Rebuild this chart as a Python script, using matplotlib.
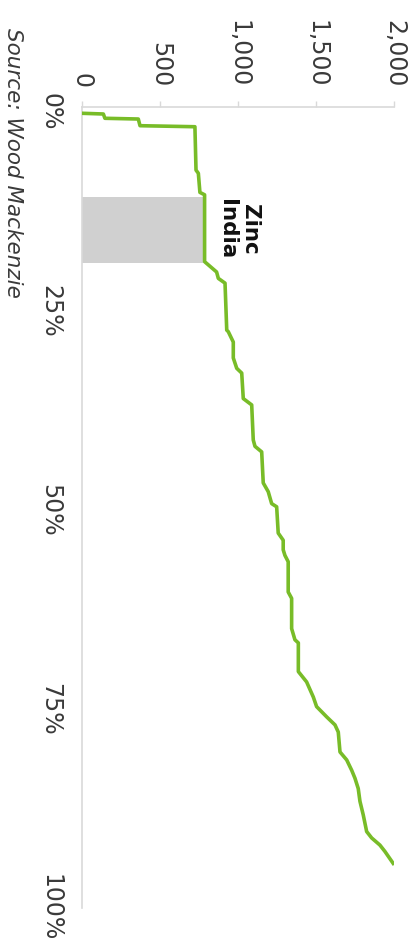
import matplotlib
matplotlib.use("Agg")
import matplotlib.pyplot as plt
from matplotlib.ticker import FuncFormatter

# cumulative share of production (%) and cash cost
cum_share = [0.16, 0.25, 0.79, 0.88, 1.72, 1.85, 7.3, 7.7, 10.1, 10.4, 18.8,
             20.1, 20.9, 21.5, 27.4, 27.6, 28.9, 30.9, 32.2, 32.8, 36.0,
             36.8, 41.2, 42.0, 42.7, 46.6, 47.7, 49.2, 49.6, 52.9, 53.8,
             55.0, 55.7, 56.5, 60.3, 61.1, 64.9, 66.3, 66.7, 70.3, 71.6,
             73.5, 74.7, 76.0, 77.0, 77.9, 80.4, 81.4, 82.7, 83.7, 85.0,
             86.6, 88.3, 90.4, 91.2, 92.1, 92.9, 94.4]
unit_cost = [0, 137, 147, 361, 372, 724, 731, 746, 756, 786, 786,
             863, 874, 917, 928, 938, 970, 970, 992, 1024, 1034,
             1088, 1098, 1109, 1152, 1162, 1194, 1216, 1248, 1258, 1290,
             1290, 1301, 1322, 1322, 1344, 1344, 1365, 1387, 1387, 1440,
             1483, 1504, 1569, 1622, 1643, 1654, 1697, 1729, 1750, 1771,
             1782, 1803, 1825, 1857, 1910, 1942, 1995]

# highlighted operation
india_start = 10.7
india_end = 19.0
india_cost = 775

cost_ticks = [0, 500, 1000, 1500, 2000]
share_ticks = [0, 25, 50, 75, 100]

green = "#78bc28"
axis_grey = "#d9d9d9"
text_col = "#3a3a3a"

fig = plt.figure(figsize=(4.13, 9.46), dpi=100)
ax = fig.add_axes([0.1985, 0.0402, 0.7554, 0.8467])

ax.fill_betweenx([india_start, india_end], 0, india_cost,
                 color="#d0d0d0", linewidth=0, zorder=1)
ax.plot(unit_cost, cum_share, color=green, linewidth=2.6,
        solid_joinstyle="round", zorder=3)

ax.text(1003, 14.7, "Zinc\nIndia", rotation=-90, ha="center", va="center",
        multialignment="center", fontsize=15.5, fontweight="bold",
        color="#111111", linespacing=1.15)

ax.set_xlim(0, 2000)
ax.set_ylim(100, -0.63)

ax.set_xticks(cost_ticks)
ax.xaxis.set_major_formatter(FuncFormatter(lambda v, p: f"{v:,.0f}"))
ax.set_yticks(share_ticks)
ax.yaxis.set_major_formatter(FuncFormatter(lambda v, p: f"{v:.0f}%"))

ax.tick_params(axis="x", top=True, bottom=False, labeltop=True,
               labelbottom=False, direction="out", length=4, width=1,
               color=axis_grey, labelrotation=-90, pad=10,
               labelsize=17, labelcolor=text_col)
ax.tick_params(axis="y", left=True, length=0, labelrotation=-90, pad=14,
               labelsize=17, labelcolor=text_col)
plt.setp(ax.get_yticklabels(), rotation=-90, va="center", ha="right")

for side in ["right", "bottom"]:
    ax.spines[side].set_visible(False)
for side in ["top", "left"]:
    ax.spines[side].set_color(axis_grey)
    ax.spines[side].set_linewidth(1.2)

fig.text(0.031, 0.970, "Source: Wood Mackenzie", rotation=-90,
         ha="center", va="top", fontsize=15.5, style="italic",
         color=text_col)

fig.savefig("out.png", dpi=100)
